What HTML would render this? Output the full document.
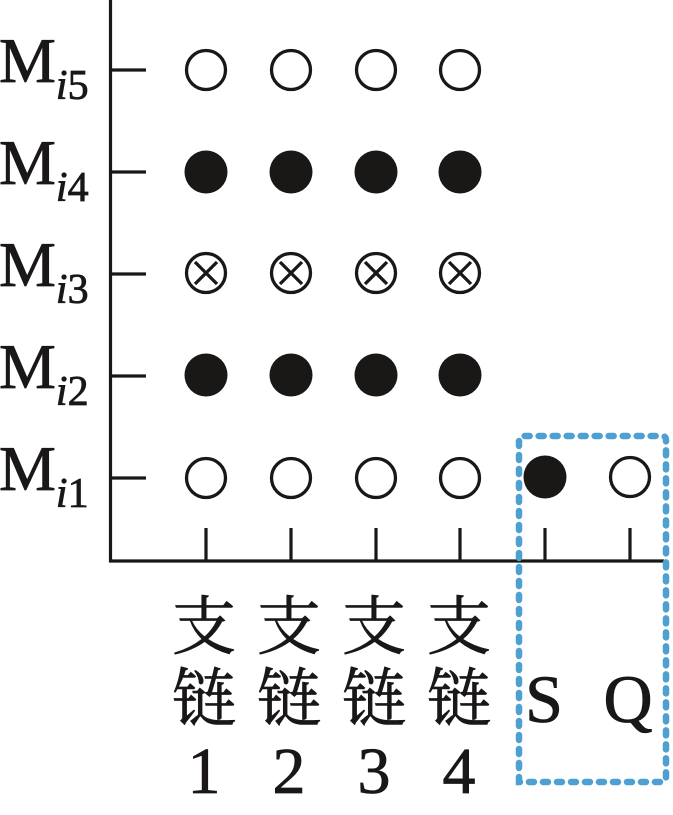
<!DOCTYPE html>
<html><head><meta charset="utf-8"><style>
html,body{margin:0;padding:0;background:#fff;}
svg{display:block;}
.ser{font-family:"Liberation Serif","Times New Roman",Times,serif;}
.cjk{font-family:"Liberation Serif","Noto Serif CJK SC",serif;}
</style></head><body>
<svg width="673" height="815" viewBox="0 0 673 815" xmlns="http://www.w3.org/2000/svg">
<rect width="673" height="815" fill="#fff"/>
<g stroke="#1a1717" stroke-width="3.2" fill="none">
  <line x1="110.5" y1="0" x2="110.5" y2="562"/>
  <line x1="109" y1="561" x2="664" y2="561"/>
  <line x1="110" y1="70" x2="146" y2="70"/>
  <line x1="110" y1="172" x2="146" y2="172"/>
  <line x1="110" y1="274" x2="146" y2="274"/>
  <line x1="110" y1="376" x2="146" y2="376"/>
  <line x1="110" y1="478" x2="146" y2="478"/>
  <line x1="206" y1="528" x2="206" y2="561"/>
  <line x1="291" y1="528" x2="291" y2="561"/>
  <line x1="376" y1="528" x2="376" y2="561"/>
  <line x1="460" y1="528" x2="460" y2="561"/>
  <line x1="545" y1="528" x2="545" y2="561"/>
  <line x1="630" y1="528" x2="630" y2="561"/>
</g>
<g stroke="#1a1717" stroke-width="3.3" fill="none">
  <circle cx="206" cy="70" r="19.5"/><circle cx="291" cy="70" r="19.5"/><circle cx="376" cy="70" r="19.5"/><circle cx="460" cy="70" r="19.5"/>
  <circle cx="206" cy="478" r="19.5"/><circle cx="291" cy="478" r="19.5"/><circle cx="376" cy="478" r="19.5"/><circle cx="460" cy="478" r="19.5"/>
  <circle cx="630" cy="477" r="19.5"/>
  <circle cx="206" cy="273" r="19.5"/><circle cx="291" cy="273" r="19.5"/><circle cx="376" cy="273" r="19.5"/><circle cx="460" cy="273" r="19.5"/>
  <path d="M195 262L217 284M217 262L195 284 M280 262L302 284M302 262L280 284 M365 262L387 284M387 262L365 284 M449 262L471 284M471 262L449 284"/>
</g>
<g fill="#1a1717">
  <circle cx="206" cy="172" r="21.5"/><circle cx="291" cy="172" r="21.5"/><circle cx="376" cy="172" r="21.5"/><circle cx="460" cy="172" r="21.5"/>
  <circle cx="206" cy="375" r="21.5"/><circle cx="291" cy="375" r="21.5"/><circle cx="376" cy="375" r="21.5"/><circle cx="460" cy="375" r="21.5"/>
  <circle cx="545" cy="477" r="21.5"/>
</g>
<path d="M519 782 L519 440 Q519 436 523 436 L662 436 Q666 436 666 440 L666 778 Q666 782 662 782 Z" fill="none" stroke="#4ea0d3" stroke-width="6.5" stroke-linecap="round" stroke-dasharray="5 9"/>
<g class="ser" fill="#1a1717" stroke="#1a1717" stroke-width="0.8">
  <text x="-1" y="82" font-size="64">M<tspan font-size="42" font-style="italic" dy="17">i</tspan><tspan font-size="42">5</tspan></text>
  <text x="-1" y="184" font-size="64">M<tspan font-size="42" font-style="italic" dy="17">i</tspan><tspan font-size="42">4</tspan></text>
  <text x="-1" y="286" font-size="64">M<tspan font-size="42" font-style="italic" dy="17">i</tspan><tspan font-size="42">3</tspan></text>
  <text x="-1" y="388" font-size="64">M<tspan font-size="42" font-style="italic" dy="17">i</tspan><tspan font-size="42">2</tspan></text>
  <text x="-1" y="490" font-size="64">M<tspan font-size="42" font-style="italic" dy="17">i</tspan><tspan font-size="42">1</tspan></text>
</g>
<g class="cjk" fill="#1a1717" stroke="#1a1717" stroke-width="0.8" text-anchor="middle" font-size="64">
  <text x="204" y="649">支</text><text x="289" y="649">支</text><text x="374" y="649">支</text><text x="459" y="649">支</text>
  <text x="204" y="721">链</text><text x="289" y="721">链</text><text x="374" y="721">链</text><text x="459" y="721">链</text>
</g>
<g class="ser" fill="#1a1717" stroke="#1a1717" stroke-width="0.8" text-anchor="middle">
  <text x="204" y="793" font-size="66">1</text>
  <text x="289" y="793" font-size="66">2</text>
  <text x="374" y="793" font-size="66">3</text>
  <text x="459" y="793" font-size="66">4</text>
  <text x="544" y="722" font-size="68">S</text>
  <text x="628" y="722" font-size="68">Q</text>
</g>
</svg>
</body></html>
